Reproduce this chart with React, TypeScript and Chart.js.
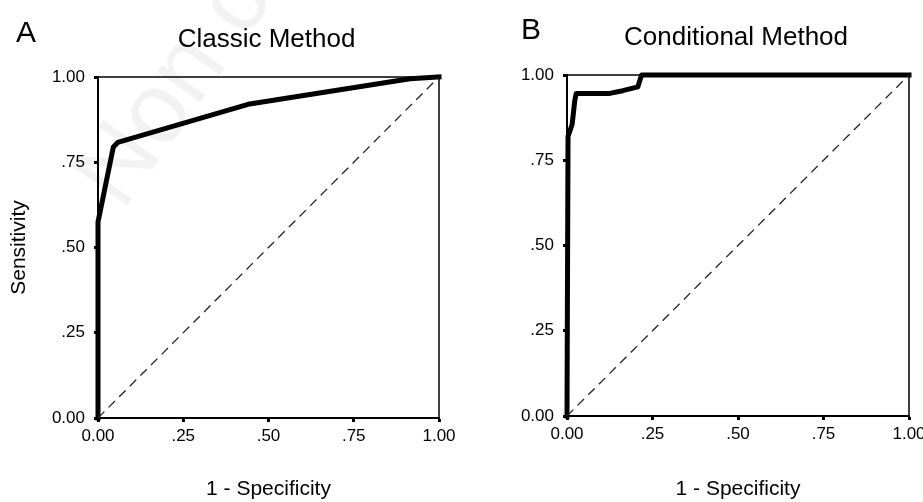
import React, { useEffect, useRef } from "react";
import { Chart, registerables } from "chart.js";
Chart.register(...registerables);

// ---- data ----
const tickValues = [0, 0.25, 0.5, 0.75, 1];
const tickLabels = ["0.00", ".25", ".50", ".75", "1.00"];

const classicX = [0, 0, 0.045, 0.058, 0.44, 0.915, 1];
const classicY = [0, 0.575, 0.795, 0.808, 0.92, 0.995, 1];

const conditionalX = [0, 0.003, 0.015, 0.023, 0.027, 0.125, 0.163, 0.207, 0.218, 1];
const conditionalY = [0, 0.82, 0.855, 0.927, 0.946, 0.946, 0.954, 0.965, 1, 1];

const diagonalX = [0, 1];
const diagonalY = [0, 1];

const panelLetters = ["A", "B"];
const panelTitles = ["Classic Method", "Conditional Method"];
const xAxisTitle = "1 - Specificity";
const yAxisTitle = "Sensitivity";
const watermarkText = "Non commercial use";

const FONT = "'Liberation Sans', Arial, sans-serif";

function toPoints(xs: number[], ys: number[]) {
  return xs.map((x, i) => ({ x, y: ys[i] }));
}

function tickLabel(v: number) {
  const i = tickValues.findIndex((t) => Math.abs(t - v) < 1e-6);
  return i >= 0 ? tickLabels[i] : "";
}

type PanelOpts = {
  xs: number[];
  ys: number[];
  letter: string;
  title: string;
  showYTitle: boolean;
  yAxisWidth: number;
  padRight: number;
  padTop: number;
  xAxisHeight: number;
  letterX: number;
  letterBaseline: number;
  titleBaseline: number;
  watermark: boolean;
};

function makeConfig(o: PanelOpts): any {
  const framePlugin = {
    id: "frame",
    beforeDatasetsDraw(chart: any) {
      const { ctx, chartArea: a } = chart;
      ctx.save();
      if (o.watermark) {
        ctx.save();
        ctx.translate(122, 212);
        ctx.rotate(-0.95);
        ctx.font = `100px ${FONT}`;
        ctx.fillStyle = "rgba(0,0,0,0.05)";
        ctx.textBaseline = "alphabetic";
        ctx.fillText(watermarkText, 0, 0);
        ctx.restore();
      }
      ctx.strokeStyle = "#000";
      ctx.lineWidth = 1.5;
      ctx.beginPath();
      ctx.moveTo(a.left, a.top);
      ctx.lineTo(a.right, a.top);
      ctx.lineTo(a.right, a.bottom);
      ctx.stroke();
      ctx.restore();
    },
    afterDraw(chart: any) {
      const { ctx, chartArea: a } = chart;
      ctx.save();
      ctx.fillStyle = "#000";
      ctx.textBaseline = "alphabetic";
      ctx.font = `30px ${FONT}`;
      ctx.textAlign = "left";
      ctx.fillText(o.letter, o.letterX, o.letterBaseline);
      ctx.font = `26px ${FONT}`;
      ctx.textAlign = "center";
      ctx.fillText(o.title, (a.left + a.right) / 2 - 2, o.titleBaseline);
      ctx.restore();
    },
  };

  return {
    type: "scatter",
    data: {
      datasets: [
        {
          data: toPoints(diagonalX, diagonalY),
          showLine: true,
          borderColor: "#222",
          borderWidth: 1.3,
          borderDash: [9, 6],
          pointRadius: 0,
          fill: false,
        },
        {
          data: toPoints(o.xs, o.ys),
          showLine: true,
          borderColor: "#000",
          borderWidth: 5,
          borderJoinStyle: "round",
          borderCapStyle: "square",
          pointRadius: 0,
          fill: false,
          clip: false,
        },
      ],
    },
    options: {
      animation: false,
      responsive: false,
      devicePixelRatio: 1,
      layout: { padding: { left: 0, right: o.padRight, top: o.padTop, bottom: 0 } },
      plugins: { legend: { display: false }, tooltip: { enabled: false }, title: { display: false } },
      scales: {
        x: {
          type: "linear",
          min: 0,
          max: 1,
          afterBuildTicks: (s: any) => {
            s.ticks = tickValues.map((v) => ({ value: v }));
          },
          afterFit: (s: any) => {
            s.height = o.xAxisHeight;
          },
          grid: {
            drawOnChartArea: false,
            drawTicks: true,
            tickLength: 4,
            tickWidth: 3,
            tickColor: "#000",
          },
          border: { display: true, color: "#000", width: 2 },
          ticks: {
            color: "#000",
            font: { family: FONT, size: 17 },
            padding: 4,
            maxRotation: 0,
            autoSkip: false,
            callback: (v: any) => tickLabel(Number(v)),
          },
          title: {
            display: true,
            text: xAxisTitle,
            color: "#000",
            font: { family: FONT, size: 21 },
            padding: { top: 0, bottom: 0 },
          },
        },
        y: {
          type: "linear",
          min: 0,
          max: 1,
          afterBuildTicks: (s: any) => {
            s.ticks = tickValues.map((v) => ({ value: v }));
          },
          afterFit: (s: any) => {
            s.width = o.yAxisWidth;
          },
          grid: {
            drawOnChartArea: false,
            drawTicks: true,
            tickLength: 4,
            tickWidth: 3,
            tickColor: "#000",
          },
          border: { display: true, color: "#000", width: 2 },
          ticks: {
            color: "#000",
            font: { family: FONT, size: 17 },
            padding: 9,
            autoSkip: false,
            callback: (v: any) => tickLabel(Number(v)),
          },
          title: {
            display: o.showYTitle,
            text: yAxisTitle,
            color: "#000",
            font: { family: FONT, size: 21 },
            padding: { top: 7, bottom: 0 },
          },
        },
      },
    },
    plugins: [framePlugin],
  };
}

function Panel(props: { left: number; width: number; height: number; opts: PanelOpts }) {
  const ref = useRef<HTMLCanvasElement | null>(null);
  useEffect(() => {
    if (!ref.current) return;
    const chart = new Chart(ref.current, makeConfig(props.opts));
    return () => chart.destroy();
  }, []);
  return (
    <canvas
      ref={ref}
      width={props.width}
      height={props.height}
      style={{
        position: "absolute",
        left: props.left,
        top: 0,
        width: props.width,
        height: props.height,
      }}
    />
  );
}

export default function App() {
  return (
    <div
      style={{
        position: "absolute",
        left: 0,
        top: 0,
        width: 923,
        height: 502,
        overflow: "hidden",
        background: "#fff",
      }}
    >
      <Panel
        left={0}
        width={460}
        height={502}
        opts={{
          xs: classicX,
          ys: classicY,
          letter: panelLetters[0],
          title: panelTitles[0],
          showYTitle: true,
          yAxisWidth: 98,
          padRight: 21,
          padTop: 77,
          xAxisHeight: 84,
          letterX: 16,
          letterBaseline: 42,
          titleBaseline: 47,
          watermark: true,
        }}
      />
      <Panel
        left={460}
        width={480}
        height={502}
        opts={{
          xs: conditionalX,
          ys: conditionalY,
          letter: panelLetters[1],
          title: panelTitles[1],
          showYTitle: false,
          yAxisWidth: 107,
          padRight: 31,
          padTop: 75,
          xAxisHeight: 86,
          letterX: 61,
          letterBaseline: 39,
          titleBaseline: 45,
          watermark: false,
        }}
      />
    </div>
  );
}
